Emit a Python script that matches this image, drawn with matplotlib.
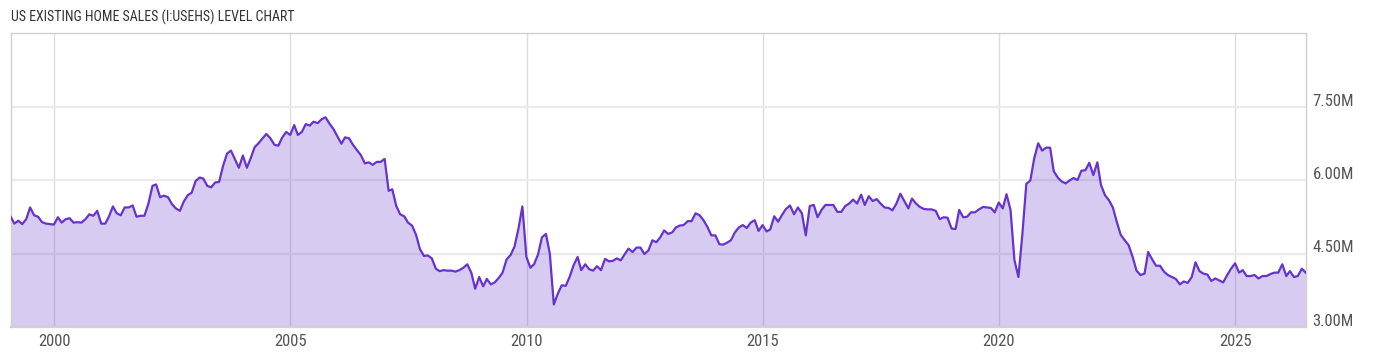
import matplotlib
matplotlib.use("Agg")
import matplotlib.pyplot as plt
import matplotlib.dates as mdates
from matplotlib.transforms import ScaledTranslation
from matplotlib import font_manager
from matplotlib.font_manager import FontProperties
import pandas as pd

# ---------------- data (millions, SAAR) ----------------
title = "US EXISTING HOME SALES (I:USEHS) LEVEL CHART"
first_month = "1999-01"
sales = [
    5.25, 5.11, 5.17, 5.10, 5.20, 5.44, 5.28, 5.25, 5.14, 5.11, 5.10, 5.09,  # 1999
    5.24, 5.13, 5.20, 5.22, 5.13, 5.14, 5.13, 5.20, 5.30, 5.27, 5.37, 5.11,  # 2000
    5.11, 5.25, 5.46, 5.32, 5.28, 5.44, 5.44, 5.48, 5.25, 5.27, 5.27, 5.52,  # 2001
    5.88, 5.91, 5.65, 5.68, 5.65, 5.51, 5.42, 5.37, 5.56, 5.69, 5.74, 5.98,  # 2002
    6.05, 6.03, 5.88, 5.85, 5.95, 5.96, 6.29, 6.54, 6.60, 6.42, 6.25, 6.50,  # 2003
    6.25, 6.44, 6.67, 6.75, 6.85, 6.94, 6.85, 6.72, 6.70, 6.87, 6.98, 6.92,  # 2004
    7.12, 6.92, 6.98, 7.14, 7.11, 7.19, 7.16, 7.24, 7.28, 7.15, 7.04, 6.89,  # 2005
    6.74, 6.87, 6.85, 6.72, 6.61, 6.51, 6.34, 6.36, 6.31, 6.37, 6.37, 6.43,  # 2006
    5.78, 5.81, 5.47, 5.30, 5.26, 5.13, 5.07, 4.88, 4.59, 4.45, 4.46, 4.40,  # 2007
    4.19, 4.14, 4.16, 4.15, 4.15, 4.13, 4.16, 4.21, 4.28, 4.11, 3.78, 4.02,  # 2008
    3.83, 3.98, 3.87, 3.91, 4.00, 4.11, 4.38, 4.47, 4.64, 5.01, 5.46, 4.43,  # 2009
    4.21, 4.28, 4.48, 4.83, 4.90, 4.50, 3.46, 3.68, 3.85, 3.84, 4.02, 4.26,  # 2010
    4.43, 4.16, 4.28, 4.18, 4.15, 4.24, 4.16, 4.39, 4.34, 4.35, 4.40, 4.36,  # 2011
    4.49, 4.60, 4.53, 4.62, 4.62, 4.49, 4.56, 4.77, 4.73, 4.83, 4.97, 4.90,  # 2012
    4.93, 5.03, 5.07, 5.08, 5.16, 5.16, 5.32, 5.28, 5.18, 5.04, 4.87, 4.87,  # 2013
    4.69, 4.68, 4.72, 4.77, 4.93, 5.03, 5.08, 5.02, 5.13, 5.18, 4.96, 5.08,  # 2014
    4.95, 4.99, 5.26, 5.15, 5.29, 5.41, 5.48, 5.30, 5.44, 5.32, 4.87, 5.47,  # 2015
    5.49, 5.24, 5.39, 5.49, 5.49, 5.49, 5.35, 5.35, 5.47, 5.52, 5.60, 5.52,  # 2016
    5.70, 5.49, 5.67, 5.57, 5.61, 5.52, 5.44, 5.43, 5.38, 5.52, 5.72, 5.57,  # 2017
    5.42, 5.62, 5.52, 5.45, 5.41, 5.40, 5.40, 5.37, 5.20, 5.24, 5.23, 5.01,  # 2018
    5.00, 5.39, 5.24, 5.25, 5.34, 5.34, 5.40, 5.45, 5.44, 5.43, 5.34, 5.54,  # 2019
    5.42, 5.71, 5.39, 4.37, 4.02, 4.88, 5.92, 5.99, 6.44, 6.75, 6.60, 6.66,  # 2020
    6.66, 6.18, 6.05, 5.97, 5.93, 5.99, 6.04, 6.00, 6.19, 6.20, 6.35, 6.10,  # 2021
    6.36, 5.90, 5.69, 5.59, 5.44, 5.15, 4.88, 4.77, 4.67, 4.43, 4.15, 4.06,  # 2022
    4.09, 4.53, 4.38, 4.25, 4.25, 4.13, 4.06, 4.02, 3.98, 3.87, 3.93, 3.90,  # 2023
    4.02, 4.32, 4.14, 4.09, 4.07, 3.94, 3.99, 3.95, 3.91, 4.06, 4.19, 4.30,  # 2024
    4.11, 4.16, 4.04, 4.04, 4.06, 3.99, 4.04, 4.04, 4.08, 4.11, 4.11, 4.28,  # 2025
    4.04, 4.14, 4.02, 4.04, 4.19, 4.11,                                      # 2026
]
y_ticks = [3.0, 4.5, 6.0, 7.5]
y_limits = (3.0, 9.0)
year_step = 5

# ---------------- fonts: prefer a condensed sans if one is installed ----------------
def pick_condensed():
    prefs = ["Roboto Condensed", "Liberation Sans Narrow", "DejaVu Sans Condensed",
             "Open Sans Condensed", "Noto Sans Condensed"]
    entries = font_manager.fontManager.ttflist
    for p in prefs:
        for f in entries:
            if f.name == p and f.style == "normal" and f.weight in (400, "normal", "regular"):
                return FontProperties(fname=f.fname), True
    for f in entries:
        fn = f.fname.lower()
        if (("condensed" in fn or "narrow" in fn) and "bold" not in fn
                and "oblique" not in fn and "italic" not in fn and "light" not in fn):
            return FontProperties(fname=f.fname), True
    return FontProperties(family="Roboto"), False

base_fp, condensed = pick_condensed()

def fp(size):
    p = base_fp.copy()
    p.set_size(size)
    return p

if condensed:
    title_size, tick_size = 10, 12
else:
    title_size, tick_size = 9.2, 10.6

line_color = "#6633cc"
text_color = "#555555"

dates = pd.date_range(first_month + "-01", periods=len(sales), freq="MS") + pd.offsets.MonthEnd(0)

W, H = 1400, 357
fig = plt.figure(figsize=(W / 100, H / 100), dpi=100)
left, right, top, bottom = 10.7, 1305.7, 33, 327
ax = fig.add_axes([left / W, 1 - bottom / H, (right - left) / W, (bottom - top) / H])

ax.fill_between(dates, sales, y_limits[0], color=line_color, alpha=0.25, lw=0, zorder=2)
ax.plot(dates, sales, color=line_color, lw=1.6, zorder=3, solid_joinstyle="round")

ax.set_xlim(dates[0], dates[-1])
ax.set_ylim(*y_limits)
ax.set_yticks(y_ticks)
ax.set_yticklabels([f"{v:.2f}M" for v in y_ticks])
ax.xaxis.set_major_locator(mdates.YearLocator(year_step))
ax.xaxis.set_major_formatter(mdates.DateFormatter("%Y"))

ax.yaxis.tick_right()
ax.tick_params(axis="both", length=0, labelcolor=text_color)
ax.tick_params(axis="x", pad=5)
ax.tick_params(axis="y", pad=5)
for lbl in ax.get_xticklabels() + ax.get_yticklabels():
    lbl.set_fontproperties(fp(tick_size))

ax.grid(axis="y", color="#ebebeb", lw=1.6, zorder=1)
ax.grid(axis="x", color="#dddddd", lw=1.0, zorder=1)
ax.set_axisbelow(True)

for s in ax.spines.values():
    s.set_color("#d0d0d0")
    s.set_linewidth(1.0)
ax.spines["bottom"].set_linewidth(1.6)

off = ScaledTranslation(0, 7 / 100, fig.dpi_scale_trans)
for lbl in ax.get_yticklabels():
    lbl.set_transform(lbl.get_transform() + off)

fig.text(left / W, 1 - 17.2 / H, title, va="center", ha="left",
         fontproperties=fp(title_size), color="#333333")

fig.savefig("out.png", dpi=100)
